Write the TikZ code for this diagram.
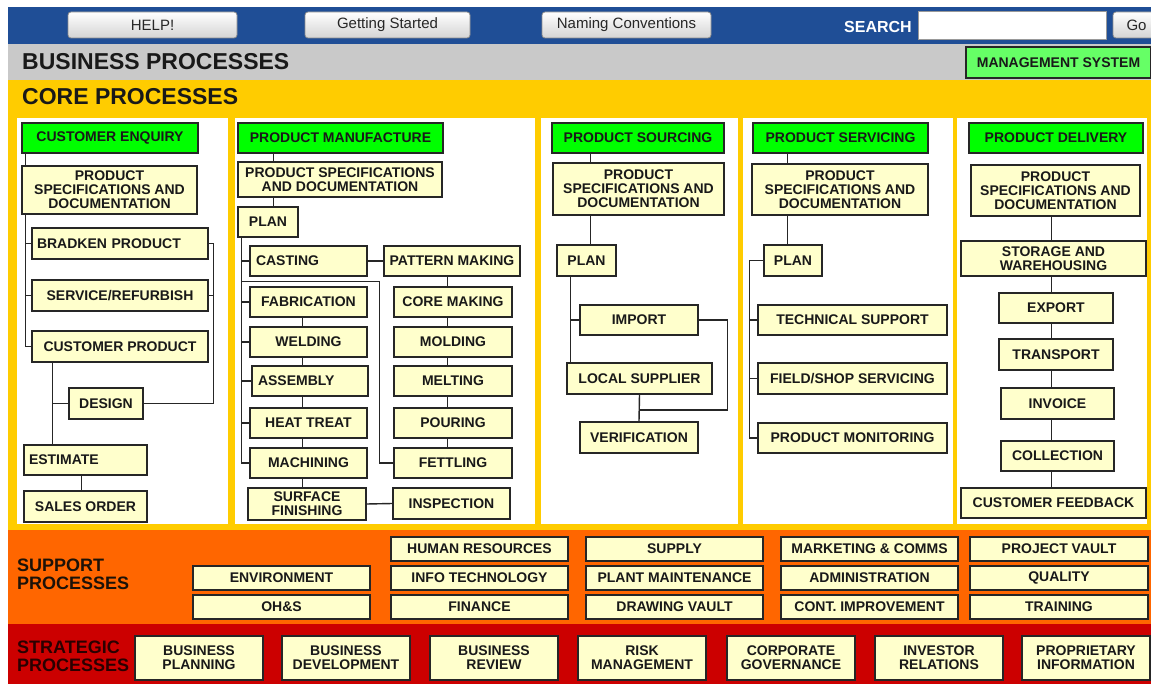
\documentclass[tikz,border=0pt]{standalone}
\usepackage{fontspec}
\setmainfont{Liberation Sans}
\definecolor{topblue}{HTML}{1F4E96}
\definecolor{graybar}{HTML}{C9C9C9}
\definecolor{coreyellow}{HTML}{FFCC00}
\definecolor{suporange}{HTML}{FF6600}
\definecolor{stratred}{HTML}{CC0000}
\definecolor{nodefill}{HTML}{FFFFCC}
\definecolor{hdrgreen}{HTML}{00FF00}
\definecolor{mgmtgreen}{HTML}{66FF66}
\definecolor{supptext}{HTML}{1C1208}
\definecolor{strattext}{HTML}{2A0000}
\tikzset{
  ln/.style={draw=black!85, line width=1.4pt},
  box/.style={draw=black!85, line width=1.3pt, fill=nodefill, inner sep=1pt, align=center,
    font=\fontsize{14}{14}\selectfont\bfseries, text=black!90},
  hdr/.style={box, fill=hdrgreen},
  mgmt/.style={box, fill=mgmtgreen},
  btn/.style={draw=black!45, rounded corners=3pt, top color=white, bottom color=black!17,
    line width=0.8pt, font=\fontsize{15}{15}\selectfont, text=black!85, inner sep=0pt},
  sbox/.style={draw=black!40, fill=white, line width=0.8pt, inner sep=0pt},
  bandlbl/.style={anchor=north west, align=left, inner sep=0pt,
    font=\fontsize{18}{17.5}\selectfont\bfseries},
  titlelbl/.style={anchor=west, inner sep=0pt, font=\fontsize{23}{23}\selectfont\bfseries, text=black!90}
}
\newcommand\bx[7][box]{\node[#1, minimum width={(#5-#3)*1pt}, minimum height={(#6-#4)*1pt}] (#2) at ({(#3+#5)/2},{(#4+#6)/2}) {#7};}
\begin{document}
\begin{tikzpicture}[x=1pt,y=-1pt]
\useasboundingbox (0,0) rectangle (1151,684);
\clip (0,0) rectangle (1151,684);
% bands
\fill[white] (0,0) rectangle (1151,684);
\fill[topblue] (8,7) rectangle (1151,44);
\fill[graybar] (8,44) rectangle (1151,80);
\fill[coreyellow] (8,80) rectangle (1151,530);
\fill[suporange] (8,530) rectangle (1151,624);
\fill[stratred] (8,624) rectangle (1151,684);
% panels
\fill[white] (17,118) rectangle (228,524);
\fill[white] (235,118) rectangle (535,524);
\fill[white] (541,118) rectangle (738,524);
\fill[white] (743,118) rectangle (953,524);
\fill[white] (957,118) rectangle (1147,524);
% top bar
\bx[btn]{help}{68}{12}{237}{38}{HELP!}
\bx[btn]{gs}{305}{12}{470}{38}{Getting Started}
\bx[btn]{nc}{542}{12}{711}{38}{Naming Conventions}
\node[anchor=east, font=\fontsize{16}{16}\selectfont\bfseries, text=white, inner sep=0pt] (srch) at (912,27) {SEARCH};
\bx[sbox]{sfield}{918}{11}{1106}{39}{}
\bx[btn]{go}{1113}{12}{1160}{38}{Go}
% titles
\node[titlelbl] (bptitle) at (22,62) {BUSINESS PROCESSES};
\bx[mgmt]{ms}{966}{47}{1151}{78}{MANAGEMENT SYSTEM}
\node[titlelbl] (cptitle) at (22,97) {CORE PROCESSES};
% ---- column 1
\bx[hdr]{ce}{22}{123}{198}{153}{CUSTOMER ENQUIRY}
\bx{psda}{22}{166}{197}{214}{PRODUCT\\SPECIFICATIONS AND\\DOCUMENTATION}
\bx[box,align=left,text width=166pt]{brad}{32}{228}{208}{259}{BRADKEN PRODUCT}
\bx{serv}{32}{280}{208}{311}{SERVICE/REFURBISH}
\bx{cusp}{32}{331}{208}{362}{CUSTOMER PRODUCT}
\bx{des}{69}{388}{143}{419}{DESIGN}
\bx[box,align=left,text width=113pt]{est}{24}{445}{147}{475}{ESTIMATE}
\bx{so}{24}{491}{147}{522}{SALES ORDER}
\coordinate (a0) at ([xshift=4pt]ce.south west);
\draw[ln] (a0) -- (a0 |- psda.north);
\draw[ln] (a0 |- psda.south) |- (cusp.west);
\draw[ln] (a0 |- brad.west) -- (brad.west);
\draw[ln] (a0 |- serv.west) -- (serv.west);
\draw[ln] (brad.east) -- ++(5,0) |- (des.east);
\draw[ln] (serv.east) -- ++(5,0);
\coordinate (a1) at ([xshift=21pt]cusp.south west);
\draw[ln] (a1) -- (a1 |- est.north);
\draw[ln] (a1 |- des.west) -- (des.west);
\coordinate (a2) at ([xshift=58pt]est.south west);
\draw[ln] (a2) -- (a2 |- so.north);
% ---- column 2
\bx[hdr]{pm}{238}{123}{443}{153}{PRODUCT MANUFACTURE}
\bx{psdb}{238}{162}{442}{197}{PRODUCT SPECIFICATIONS\\AND DOCUMENTATION}
\bx{planb}{238}{207}{298}{237}{PLAN}
\bx[box,align=left,text width=105pt]{cast}{250}{246}{367}{276}{CASTING}
\bx{patt}{384}{246}{520}{276}{PATTERN MAKING}
\bx{fab}{250}{287}{367}{317}{FABRICATION}
\bx{weld}{250}{327}{367}{357}{WELDING}
\bx[box,align=left,text width=104pt]{asm}{252}{366}{368}{396}{ASSEMBLY}
\bx{heat}{250}{408}{367}{438}{HEAT TREAT}
\bx{mach}{250}{448}{367}{478}{MACHINING}
\bx{surf}{248}{488}{366}{520}{SURFACE\\FINISHING}
\bx{core}{394}{287}{512}{317}{CORE MAKING}
\bx{mold}{394}{327}{512}{357}{MOLDING}
\bx{melt}{394}{366}{512}{396}{MELTING}
\bx{pour}{394}{408}{512}{438}{POURING}
\bx{fett}{394}{448}{512}{478}{FETTLING}
\bx{insp}{393}{488}{510}{519}{INSPECTION}
\coordinate (b0) at ([xshift=36pt]pm.south west);
\draw[ln] (b0) -- (b0 |- psdb.north);
\draw[ln] (b0 |- psdb.south) -- (b0 |- planb.north);
\coordinate (b1) at ([xshift=4pt]planb.south west);
\draw[ln] (b1) |- (mach.west);
\foreach \n in {cast,fab,weld,asm,heat} \draw[ln] (b1 |- \n.west) -- (\n.west);
\path (cast.south) -- (fab.north) coordinate[pos=0.5] (b2);
\coordinate (b3) at ([xshift=-14pt]fett.west);
\draw[ln] (b1 |- b2) -- (b3 |- b2) -- (b3) -- (fett.west);
\draw[ln] (cast.east) -- (patt.west);
\coordinate (b4) at ([xshift=64pt]patt.south west);
\draw[ln] (b4) -- (b4 |- core.north);
\draw[ln] (b4 |- core.south) -- (b4 |- mold.north);
\draw[ln] (b4 |- mold.south) -- (b4 |- melt.north);
\draw[ln] (b4 |- melt.south) -- (b4 |- pour.north);
\draw[ln] (b4 |- pour.south) -- (b4 |- fett.north);
\coordinate (b5) at ([xshift=53pt]fab.south west);
\draw[ln] (b5) -- (b5 |- weld.north);
\draw[ln] (b5 |- weld.south) -- (b5 |- asm.north);
\draw[ln] (b5 |- asm.south) -- (b5 |- heat.north);
\draw[ln] (b5 |- heat.south) -- (b5 |- mach.north);
\draw[ln] (b5 |- mach.south) -- (b5 |- surf.north);
\draw[ln] (surf.east) -- (insp.west);
% ---- column 3
\bx[hdr]{ps}{552}{123}{724}{153}{PRODUCT SOURCING}
\bx{psdc}{553}{163}{724}{215}{PRODUCT\\SPECIFICATIONS AND\\DOCUMENTATION}
\bx{planc}{557}{245}{616}{276}{PLAN}
\bx{imp}{580}{305}{698}{335}{IMPORT}
\bx{loc}{567}{363}{712}{394}{LOCAL SUPPLIER}
\bx{ver}{580}{422}{698}{453}{VERIFICATION}
\coordinate (c0) at ([xshift=39pt]ps.south west);
\draw[ln] (c0) -- (c0 |- psdc.north);
\draw[ln] (c0 |- psdc.south) -- (c0 |- planc.north);
\coordinate (c1) at ([xshift=14pt]planc.south west);
\draw[ln] (c1) -- (c1 |- loc.north);
\draw[ln] (c1 |- imp.west) -- (imp.west);
\draw[ln] (loc.south) -- (ver.north);
\path (loc.south) -- (ver.north) coordinate[pos=0.57] (c2);
\draw[ln] (imp.east) -- ++(29,0) |- (c2);
% ---- column 4
\bx[hdr]{psv}{753}{123}{928}{153}{PRODUCT SERVICING}
\bx{psdd}{752}{164}{928}{215}{PRODUCT\\SPECIFICATIONS AND\\DOCUMENTATION}
\bx{pland}{764}{245}{822}{276}{PLAN}
\bx{tsup}{758}{305}{947}{335}{TECHNICAL SUPPORT}
\bx{fss}{758}{363}{947}{394}{FIELD/SHOP SERVICING}
\bx{pmon}{758}{423}{947}{453}{PRODUCT MONITORING}
\coordinate (d0) at ([xshift=35pt]psv.south west);
\draw[ln] (d0) -- (d0 |- psdd.north);
\draw[ln] (d0 |- psdd.south) -- (d0 |- pland.north);
\coordinate (d1) at ([xshift=-14pt]pland.west);
\draw[ln] (pland.west) -- (d1) |- (pmon.west);
\draw[ln] (d1 |- tsup.west) -- (tsup.west);
\draw[ln] (d1 |- fss.west) -- (fss.west);
% ---- column 5
\bx[hdr]{pd}{969}{123}{1143}{153}{PRODUCT DELIVERY}
\bx{psde}{971}{165}{1140}{216}{PRODUCT\\SPECIFICATIONS AND\\DOCUMENTATION}
\bx{stor}{961}{241}{1146}{276}{STORAGE AND\\WAREHOUSING}
\bx{expo}{999}{293}{1113}{323}{EXPORT}
\bx{trn}{999}{339}{1113}{370}{TRANSPORT}
\bx{inv}{1001}{388}{1114}{419}{INVOICE}
\bx{coll}{1001}{441}{1114}{471}{COLLECTION}
\bx{cfb}{961}{488}{1146}{518}{CUSTOMER FEEDBACK}
\coordinate (e0) at ([xshift=81pt]psde.south west);
\draw[ln] (e0) -- (e0 |- stor.north);
\draw[ln] (e0 |- stor.south) -- (e0 |- expo.north);
\draw[ln] (e0 |- expo.south) -- (e0 |- trn.north);
\draw[ln] (e0 |- trn.south) -- (e0 |- inv.north);
\draw[ln] (e0 |- inv.south) -- (e0 |- coll.north);
\draw[ln] (e0 |- coll.south) -- (e0 |- cfb.north);
% ---- support processes
\node[bandlbl, text=supptext] (suplbl) at (17,559) {SUPPORT\\PROCESSES};
\bx{hr}{391}{537}{568}{561}{HUMAN RESOURCES}
\bx{sup}{586}{537}{763}{561}{SUPPLY}
\bx{mkt}{781}{537}{958}{561}{MARKETING \& COMMS}
\bx{pv}{970}{537}{1148}{561}{PROJECT VAULT}
\bx{env}{193}{566}{370}{590}{ENVIRONMENT}
\bx{it}{391}{566}{568}{590}{INFO TECHNOLOGY}
\bx{plm}{586}{566}{763}{590}{PLANT MAINTENANCE}
\bx{adm}{781}{566}{958}{590}{ADMINISTRATION}
\bx{qual}{970}{566}{1148}{590}{QUALITY}
\bx{ohs}{193}{595}{370}{619}{OH\&S}
\bx{fin}{391}{595}{568}{619}{FINANCE}
\bx{dv}{586}{595}{763}{619}{DRAWING VAULT}
\bx{ci}{781}{595}{958}{619}{CONT. IMPROVEMENT}
\bx{trg}{970}{595}{1148}{619}{TRAINING}
% ---- strategic processes
\node[bandlbl, text=strattext] (strlbl) at (17,641) {STRATEGIC\\PROCESSES};
\bx{bpl}{135}{636}{263}{680}{BUSINESS\\PLANNING}
\bx{bdv}{282}{636}{410}{680}{BUSINESS\\DEVELOPMENT}
\bx{brv}{430}{636}{558}{680}{BUSINESS\\REVIEW}
\bx{rsk}{578}{636}{706}{680}{RISK\\MANAGEMENT}
\bx{cgv}{727}{636}{855}{680}{CORPORATE\\GOVERNANCE}
\bx{inr}{875}{636}{1003}{680}{INVESTOR\\RELATIONS}
\bx{pri}{1022}{636}{1150}{680}{PROPRIETARY\\INFORMATION}
\end{tikzpicture}
\end{document}
